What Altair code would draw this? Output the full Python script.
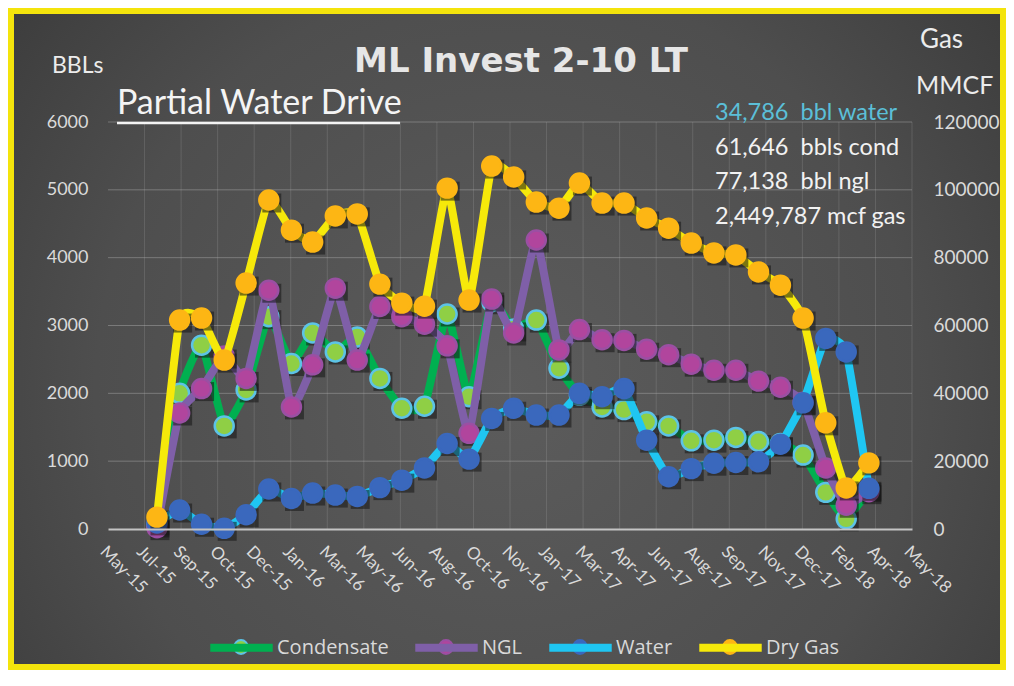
import altair as alt
import pandas as pd

# ---------------- data ----------------
months = ["2015-07-31", "2015-08-31", "2015-09-30", "2015-10-31", "2015-11-30", "2015-12-31",
          "2016-01-31", "2016-02-29", "2016-03-31", "2016-04-30", "2016-05-31", "2016-06-30",
          "2016-07-31", "2016-08-31", "2016-09-30", "2016-10-31", "2016-11-30", "2016-12-31",
          "2017-01-31", "2017-02-28", "2017-03-31", "2017-04-30", "2017-05-31", "2017-06-30",
          "2017-07-31", "2017-08-31", "2017-09-30", "2017-10-31", "2017-11-30", "2017-12-31",
          "2018-01-31", "2018-02-28", "2018-03-31"]

condensate = [60, 2000, 2710, 1520, 2050, 3130, 2440, 2890, 2610, 2830, 2220, 1780, 1810, 3170, 1950, 3350,
              2950, 3080, 2370, 1970, 1800, 1760, 1580, 1520, 1300, 1310, 1350, 1290, 1260, 1090, 540, 150, 580]
ngl = [20, 1710, 2070, 2550, 2220, 3520, 1800, 2420, 3550, 2490, 3280, 3130, 3020, 2700, 1410, 3390,
       2890, 4260, 2640, 2940, 2790, 2780, 2650, 2570, 2430, 2340, 2340, 2180, 2090, 1870, 900, 350, 550]
water = [90, 280, 70, 10, 210, 590, 450, 530, 500, 480, 610, 720, 900, 1260, 1030, 1630,
         1780, 1680, 1680, 2000, 1950, 2070, 1310, 770, 890, 970, 980, 990, 1250, 1860, 2810, 2610, 600]
dry_gas = [3500, 61600, 62200, 49800, 72500, 97000, 88100, 84600, 92300, 92900, 72200, 66600, 65700,
           100500, 67500, 107000, 103800, 96400, 94600, 102000, 96100, 96100, 91700, 88700, 84300,
           81400, 80800, 75800, 71900, 62200, 31300, 12100, 19500]

series_names = ["Condensate", "NGL", "Water", "Dry Gas"]
line_colors = ["#00b050", "#7f5fa8", "#1fc6f2", "#f6e90a"]
marker_fills = ["#8fcf45", "#b1459d", "#3a68bd", "#fdb614"]
marker_rims = ["#5cc3e6", "#9b4fa3", "#3a68bd", "#fdb614"]

axis_start = "2015-05-25"
tick_step = 50
tick_labels = ["May-15", "Jul-15", "Sep-15", "Oct-15", "Dec-15", "Jan-16", "Mar-16", "May-16", "Jun-16",
               "Aug-16", "Oct-16", "Nov-16", "Jan-17", "Mar-17", "Apr-17", "Jun-17", "Aug-17", "Sep-17",
               "Nov-17", "Dec-17", "Feb-18", "Apr-18", "May-18"]
left_ticks = [0, 1000, 2000, 3000, 4000, 5000, 6000]
right_ticks = [0, 20000, 40000, 60000, 80000, 100000, 120000]

totals = ["34,786\u00a0 bbl water", "61,646\u00a0 bbls cond", "77,138\u00a0 bbl ngl", "2,449,787 mcf gas"]
total_colors = ["#5bbfd8", "#f2f2f2", "#f2f2f2", "#f2f2f2"]

# ---------------- layout ----------------
W, H = 804, 407
PAD = {"left": 100, "top": 114, "right": 94, "bottom": 141}

day = (pd.to_datetime(months) - pd.Timestamp(axis_start)).days.tolist()
tick_days = [i * tick_step for i in range(len(tick_labels))]
label_expr = "[" + ",".join("'%s'" % t for t in tick_labels) + "][round(datum.value / %d)]" % tick_step

FONT = "Lato"
LBL = "#dadada"

x_axis = alt.Axis(values=tick_days, labelExpr=label_expr, labelAngle=45, labelAlign="left",
                  labelBaseline="top", labelFont=FONT, labelFontSize=17, labelColor=LBL,
                  labelPadding=14, ticks=False, domain=True, domainColor="#c4c4c4", domainWidth=2,
                  grid=False, title=None, zindex=1, labelFlush=False, labelOverlap=False, labelBound=False)
x_enc = alt.X("day:Q", scale=alt.Scale(domain=[0, tick_days[-1]], nice=False, zero=False), axis=x_axis)

left_axis = alt.Axis(values=left_ticks, format="d", labelFont=FONT, labelFontSize=18, labelColor=LBL,
                     labelPadding=20, ticks=False, domain=False, grid=False, title=None, zindex=1)
right_axis = alt.Axis(values=right_ticks, format="d", orient="right", labelFont=FONT, labelFontSize=19,
                      labelColor=LBL, labelPadding=21, ticks=False, domain=False, grid=False,
                      title=None, zindex=1)
left_scale = alt.Scale(domain=[0, 6000], nice=False)
right_scale = alt.Scale(domain=[0, 120000], nice=False)

stroke_scale = alt.Scale(domain=series_names, range=line_colors)

LEG_X, LEG_Y = 98, 490
stroke_legend = alt.Legend(orient="none", legendX=LEG_X, legendY=LEG_Y, direction="horizontal",
                           title=None, symbolType="stroke", symbolSize=3900, symbolStrokeWidth=8,
                           labelFont="Open Sans", labelFontSize=20, labelColor="#d9d9d9", labelOffset=0,
                           columnPadding=10, padding=0, labelLimit=300, zindex=1)


def series_layers(i, values, y_field, scale, axis):
    df = pd.DataFrame({"day": day, y_field: values, "series": series_names[i]})
    base = alt.Chart(df)
    y_enc = alt.Y(f"{y_field}:Q", scale=scale, axis=axis)
    line = base.mark_line(strokeWidth=8, interpolate="cardinal", tension=0.6,
                          strokeCap="round", strokeJoin="round").encode(
        x=x_enc, y=y_enc,
        stroke=alt.Stroke("series:N", scale=stroke_scale, legend=stroke_legend))
    shadow = base.mark_square(color="#151515", opacity=0.55, size=360, xOffset=3, yOffset=3).encode(
        x=x_enc, y=y_enc)
    pts = base.mark_point(filled=True, shape="circle", size=360, opacity=1, fill=marker_fills[i],
                          stroke=marker_rims[i], strokeWidth=2.5).encode(x=x_enc, y=y_enc)
    return [line, shadow, pts]


one = pd.DataFrame({"k": [0]})

bg = alt.Chart(one).mark_rect(
    color=alt.Gradient(gradient="radial",
                       stops=[alt.GradientStop(offset=0, color="#5c5c5c"),
                              alt.GradientStop(offset=0.55, color="#4e4e4e"),
                              alt.GradientStop(offset=1, color="#333333")],
                       x1=0.5, y1=0.55, r1=0, x2=0.5, y2=0.55, r2=0.75)
).encode(x=alt.value(-PAD["left"]), x2=alt.value(W + PAD["right"]),
         y=alt.value(-PAD["top"]), y2=alt.value(H + PAD["bottom"]))

FR = 6
frame = alt.Chart(one).mark_rect(filled=False, stroke="#f4e40c", strokeWidth=FR).encode(
    x=alt.value(-PAD["left"] + FR / 2), x2=alt.value(W + PAD["right"] - FR / 2),
    y=alt.value(-PAD["top"] + FR / 2), y2=alt.value(H + PAD["bottom"] - FR / 2))

hgrid = alt.Chart(pd.DataFrame({"g": left_ticks[1:]})).mark_rule(
    color="#b0b0b0", opacity=0.45, strokeWidth=1).encode(
    y=alt.Y("g:Q", scale=left_scale, axis=left_axis))
vgrid = alt.Chart(pd.DataFrame({"day": tick_days[1:]})).mark_rule(
    color="#b0b0b0", opacity=0.22, strokeWidth=1).encode(x=x_enc)

left_layers = [hgrid, vgrid]
left_layers += series_layers(0, condensate, "bbl", left_scale, left_axis)
left_layers += series_layers(1, ngl, "bbl", left_scale, left_axis)
left_layers += series_layers(2, water, "bbl", left_scale, left_axis)
left = alt.layer(*left_layers)
right = alt.layer(*series_layers(3, dry_gas, "mmcf", right_scale, right_axis))

# marker glyphs sitting on the legend's line symbols
legend_marker_x = [133, 338, 472, 622]
legend_markers = []
for i, lx in enumerate(legend_marker_x):
    legend_markers.append(
        alt.Chart(one).mark_point(filled=True, shape="circle", size=190, opacity=1,
                                  fill=marker_fills[i], stroke=marker_rims[i], strokeWidth=2).encode(
            x=alt.value(lx), y=alt.value(525)))


def label(text, x, y, size, color="#ececec", font=FONT, weight="normal", align="left"):
    return alt.Chart(one).mark_text(text=text, font=font, fontSize=size, fontWeight=weight,
                                    color=color, align=align, baseline="middle").encode(
        x=alt.value(x), y=alt.value(y))


texts = [
    label("ML Invest 2-10 LT", 413, -60, 34, "#e6e6e6", "DejaVu Sans", "bold", "center"),
    label("Partial Water Drive", 9, -18, 34, "#f4f4f4"),
    label("BBLs", -56, -56, 23),
    label("Gas", 812, -82, 26),
    label("MMCF", 808, -36, 25),
]
for j, (t, c) in enumerate(zip(totals, total_colors)):
    texts.append(label(t, 607, -9 + j * 34.5, 23.5, c))

underline = alt.Chart(one).mark_rule(color="#f4f4f4", strokeWidth=2.5).encode(
    x=alt.value(9), x2=alt.value(292), y=alt.value(1))

chart = alt.layer(bg, left, right, underline, *legend_markers, *texts, frame).resolve_scale(
    y="independent").properties(
    width=W, height=H, padding=PAD, autosize=alt.AutoSizeParams(type="none"),
    background="#444444").configure_view(stroke=None)

chart.save("out.html", embed_options={"renderer": "svg", "actions": False})
